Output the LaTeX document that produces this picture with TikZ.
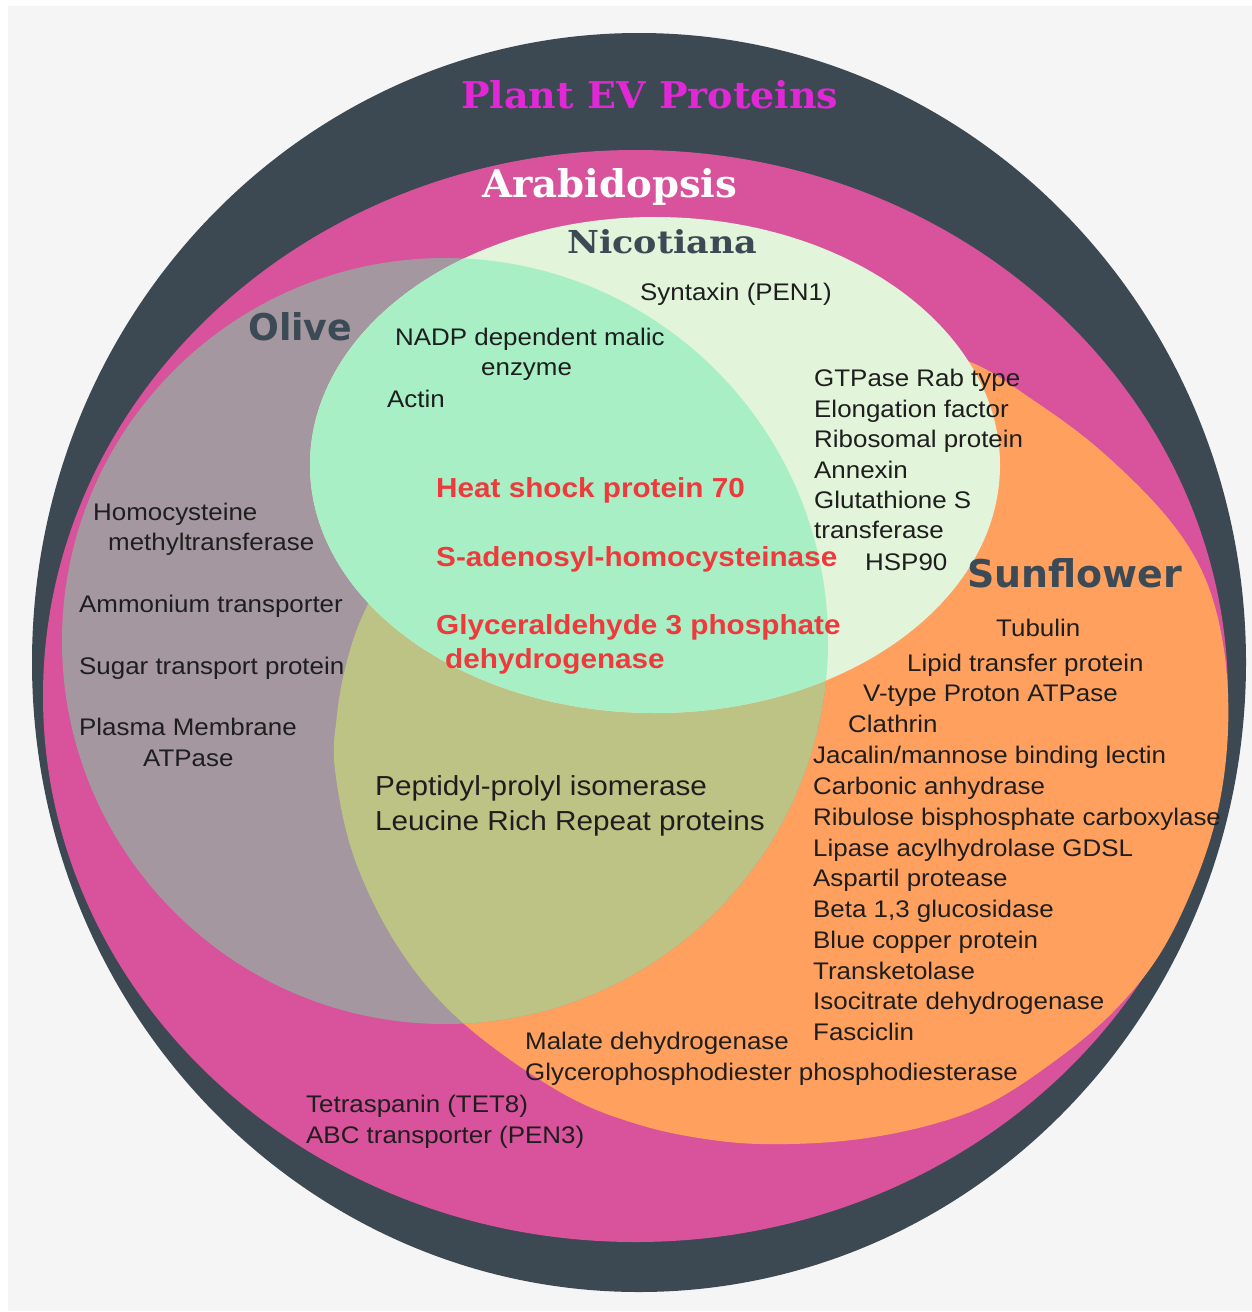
\documentclass[tikz,border=0pt]{standalone}
\usepackage{fontspec}
\usepackage{graphicx}
\setmainfont{Liberation Sans}[FakeStretch=1.08]
\newfontfamily\slabfont{DejaVu Serif}
\newfontfamily\techfont{DejaVu Sans}
\definecolor{bggray}{HTML}{F5F5F5}
\definecolor{darkring}{HTML}{3C4952}
\definecolor{arabi}{HTML}{D8539B}
\definecolor{olivefill}{HTML}{A4979F}
\definecolor{khaki}{HTML}{BDC385}
\definecolor{nicofill}{HTML}{E2F4D9}
\definecolor{mintfill}{HTML}{A8EFC6}
\definecolor{sunfill}{HTML}{FFA05F}
\definecolor{txtdark}{HTML}{1E1E1E}
\definecolor{redtxt}{HTML}{EE3A3C}
\definecolor{titlemag}{HTML}{E228D6}
\definecolor{headdark}{HTML}{3C4A55}
\tikzset{
  lbl/.style={anchor=base west, inner sep=0pt, text=txtdark, font=\fontsize{24}{29}\selectfont},
  redlbl/.style={anchor=base west, inner sep=0pt, text=redtxt, font=\fontsize{27.5}{33}\selectfont\bfseries},
  biglbl/.style={anchor=base west, inner sep=0pt, text=txtdark, font=\fontsize{27.5}{33}\selectfont},
  head/.style={anchor=base west, inner sep=0pt},
}
\begin{document}
\begin{tikzpicture}[x=1pt,y=-1pt]
\useasboundingbox (0,0) rectangle (1252,1312);
\fill[white] (0,0) rectangle (1252,1312);
\fill[bggray] (8,6) rectangle (1252,1311);
% Plant EV proteins
\fill[darkring] (639,662.5) ellipse [x radius=607pt, y radius=629.5pt];
% Arabidopsis
\fill[arabi] (635.5,696) ellipse [x radius=592.5pt, y radius=546pt];
% Sunflower
\fill[sunfill] plot[smooth cycle, tension=0.6] coordinates {(970,362) (1033,400) (1100,450) (1167,517) (1205,578) (1224,650) (1228,730) (1218,810) (1194,885) (1158,957) (1110,1015) (1052,1063) (990,1103) (930,1125) (860,1139) (788,1144) (720,1141) (640,1125) (560,1092) (463,1023) (400,950) (355,860) (335,770) (337,715) (346,665) (362,617) (392,562) (440,510) (520,450) (640,395) (780,358) (900,350)};
% Olive
\fill[olivefill] (445,641) circle [radius=383pt];
\begin{scope}
  \clip (445,641) circle [radius=383pt];
  \fill[khaki] plot[smooth cycle, tension=0.6] coordinates {(970,362) (1033,400) (1100,450) (1167,517) (1205,578) (1224,650) (1228,730) (1218,810) (1194,885) (1158,957) (1110,1015) (1052,1063) (990,1103) (930,1125) (860,1139) (788,1144) (720,1141) (640,1125) (560,1092) (463,1023) (400,950) (355,860) (335,770) (337,715) (346,665) (362,617) (392,562) (440,510) (520,450) (640,395) (780,358) (900,350)};
\end{scope}
% Nicotiana
\fill[nicofill] (655,465) ellipse [x radius=345pt, y radius=248pt];
\begin{scope}
  \clip (445,641) circle [radius=383pt];
  \fill[mintfill] (655,465) ellipse [x radius=345pt, y radius=248pt];
\end{scope}

% headings
\node[head, text=titlemag] (tPlant) at (461,108) {\resizebox{377pt}{28pt}{\slabfont\bfseries Plant EV Proteins}};
\node[head, text=white] (tArabi) at (482,197) {\resizebox{255pt}{29pt}{\slabfont\bfseries Arabidopsis}};
\node[head, text=headdark] (tNico) at (567,253) {\resizebox{190pt}{24pt}{\slabfont\bfseries Nicotiana}};
\node[head, text=headdark] (tOlive) at (248,340) {\resizebox{104pt}{28pt}{\techfont\bfseries Olive}};
\node[head, text=headdark] (tSun) at (967,587) {\resizebox{215pt}{29pt}{\techfont\bfseries Sunflower}};

% Nicotiana / Olive-Nicotiana
\node[lbl] (syn) at (640,300) {Syntaxin (PEN1)};
\node[lbl] (nadp) at (395,345) {NADP dependent malic};
\node[lbl] (enz) at (481,375) {enzyme};
\node[lbl] (actin) at (387,407) {Actin};
\node[redlbl] (hsp70) at (436,497) {Heat shock protein 70};
\node[redlbl] (sah) at (436,566) {S-adenosyl-homocysteinase};
\node[redlbl] (gapdh1) at (436,634) {Glyceraldehyde 3 phosphate};
\node[redlbl] (gapdh2) at (445,668) {dehydrogenase};

% Nicotiana-Sunflower
\node[lbl] (gtp) at (814,386) {GTPase Rab type};
\node[lbl] (elong) at (814,417) {Elongation factor};
\node[lbl] (ribo) at (814,447) {Ribosomal protein};
\node[lbl] (annex) at (814,478) {Annexin};
\node[lbl] (glut1) at (814,508) {Glutathione S};
\node[lbl] (glut2) at (814,538) {transferase};
\node[lbl] (hsp90) at (865,570) {HSP90};

% Olive
\node[lbl] (homo1) at (93,520) {Homocysteine};
\node[lbl] (homo2) at (108,550) {methyltransferase};
\node[lbl] (ammon) at (79,612) {Ammonium transporter};
\node[lbl] (sugar) at (79,674) {Sugar transport protein};
\node[lbl] (pm1) at (79,735) {Plasma Membrane};
\node[lbl] (pm2) at (143,766) {ATPase};

% Olive-Sunflower
\node[biglbl] (pept) at (375,795) {Peptidyl-prolyl isomerase};
\node[biglbl] (lrr) at (375,830) {Leucine Rich Repeat proteins};

% Sunflower
\node[lbl] (tub) at (996,636) {Tubulin};
\node[lbl] (lipid) at (907,671) {Lipid transfer protein};
\node[lbl] (vtype) at (863,701) {V-type Proton ATPase};
\node[lbl] (clath) at (848,732) {Clathrin};
\node[lbl] (jac) at (813,763) {Jacalin/mannose binding lectin};
\node[lbl] (carb) at (813,794) {Carbonic anhydrase};
\node[lbl] (rubi) at (813,825) {Ribulose bisphosphate carboxylase};
\node[lbl] (lipase) at (813,856) {Lipase acylhydrolase GDSL};
\node[lbl] (asp) at (813,886) {Aspartil protease};
\node[lbl] (beta) at (813,917) {Beta 1,3 glucosidase};
\node[lbl] (blue) at (813,948) {Blue copper protein};
\node[lbl] (transk) at (813,979) {Transketolase};
\node[lbl] (isoc) at (813,1009) {Isocitrate dehydrogenase};
\node[lbl] (fasc) at (813,1040) {Fasciclin};
\node[lbl] (malate) at (525,1049) {Malate dehydrogenase};
\node[lbl] (glyc) at (525,1080) {Glycerophosphodiester phosphodiesterase};

% Arabidopsis
\node[lbl] (tet) at (306,1112) {Tetraspanin (TET8)};
\node[lbl] (abc) at (306,1143) {ABC transporter (PEN3)};
\end{tikzpicture}
\end{document}
